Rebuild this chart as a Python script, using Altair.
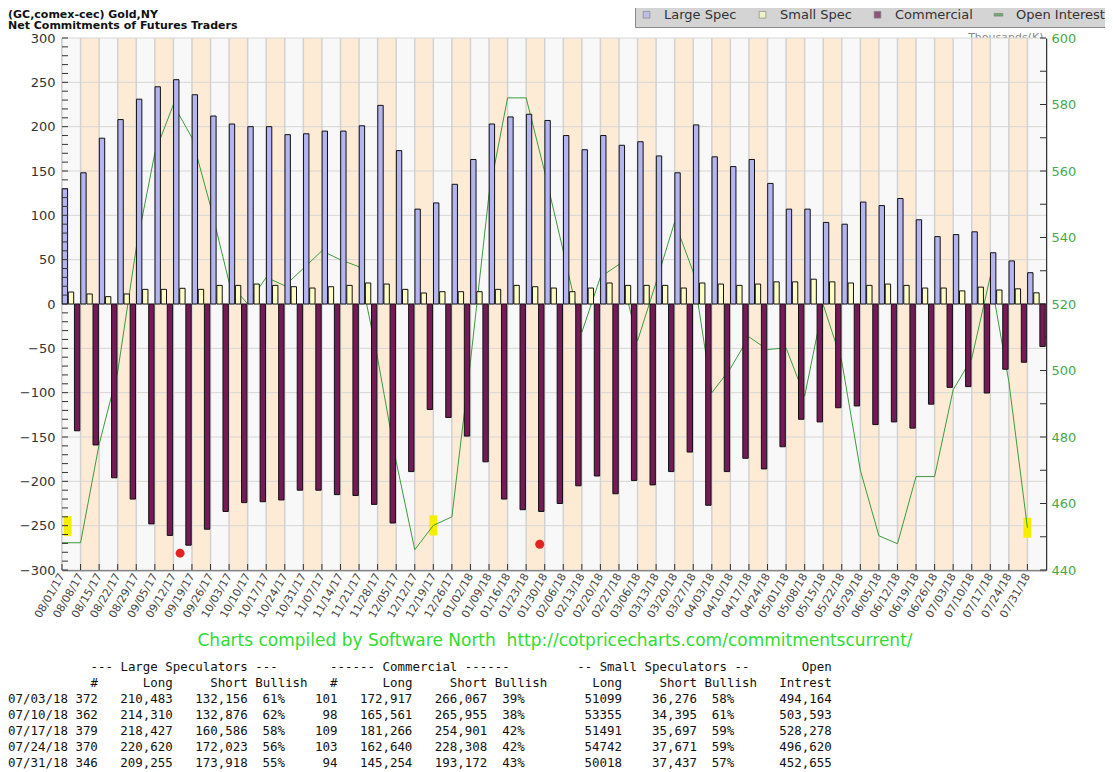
import altair as alt
import pandas as pd

# ---------------- data ----------------
dates = ["08/01/17","08/08/17","08/15/17","08/22/17","08/29/17","09/05/17","09/12/17","09/19/17","09/26/17",
         "10/03/17","10/10/17","10/17/17","10/24/17","10/31/17","11/07/17","11/14/17","11/21/17","11/28/17",
         "12/05/17","12/12/17","12/19/17","12/26/17","01/02/18","01/09/18","01/16/18","01/23/18","01/30/18",
         "02/06/18","02/13/18","02/20/18","02/27/18","03/06/18","03/13/18","03/20/18","03/27/18","04/03/18",
         "04/10/18","04/17/18","04/24/18","05/01/18","05/08/18","05/15/18","05/22/18","05/29/18","06/05/18",
         "06/12/18","06/19/18","06/26/18","07/03/18","07/10/18","07/17/18","07/24/18","07/31/18"]

large_spec = [130, 148, 187, 208, 231, 245, 253, 236, 212, 203,
              200, 200, 191, 192, 195, 195, 201, 224, 173, 107,
              114, 135, 163, 203, 211, 214, 207, 190, 174, 190,
              179, 183, 167, 148, 202, 166, 155, 163, 136, 107,
              107, 92, 90, 115, 111, 119, 95, 76, 78.3, 81.4,
              57.8, 48.6, 35.3]

small_spec = [13.5, 11.3, 8.3, 11.3, 16.5, 16.5, 17.7, 16.5, 21, 21,
              22.5, 21, 19.5, 18, 19.5, 21, 23.7, 22.5, 16.5, 12.4,
              13.9, 13.9, 13.9, 16.5, 21, 19.5, 18, 13.9, 18, 23.7,
              21, 21, 21, 18, 23.7, 22.5, 21, 22.5, 25, 25,
              28, 25, 23.7, 21, 22.5, 21, 18, 18, 14.8, 19.0,
              15.8, 17.1, 12.6]

commercial = [-143, -159, -196, -220, -248, -261, -272, -254, -234, -224,
              -223, -221, -210, -210, -215, -216, -226, -247, -189, -119,
              -128, -149, -178, -220, -232, -234, -225, -205, -194, -214,
              -199, -204, -189, -167, -227, -189, -174, -186, -161, -130,
              -133, -117, -115, -136, -133, -140, -113, -94, -93.2, -100.4,
              -73.6, -65.7, -47.9]

open_interest = [448.2, 448.2, 477.8, 499.6, 536.9, 565.4, 580.0, 570.0, 549.4, 526.5,
                 520.0, 528.0, 525.5, 530.7, 536.0, 533.3, 531.2, 503.7, 472.6, 446.1,
                 453.4, 456.0, 502.7, 553.0, 582.0, 582.0, 559.7, 535.9, 511.5, 528.1,
                 531.9, 508.9, 526.5, 544.7, 529.6, 493.3, 500.6, 510.1, 506.3, 506.8,
                 492.3, 519.8, 502.7, 470.0, 450.3, 447.9, 468.1, 468.1, 494.2, 503.6,
                 528.3, 496.6, 452.7]

marker_week = [0.3, 20, 52]
marker_oi = [453.2, 453.4, 452.7]
dot_week = [6.36, 25.73]
dot_value = [-281, -271]

series_names = ["Large Spec", "Small Spec", "Commercial", "Open Interest"]
series_colors = ["#b4b4f0", "#ffffc4", "#741a56", "#3d9b3d"]

left_ticks = list(range(-300, 301, 50))
left_minor = list(range(-300, 301, 10))
right_ticks = list(range(440, 601, 20))
right_minor = list(range(440, 601, 10))

title_lines = ["(GC,comex-cec) Gold,NY", "Net Commitments of Futures Traders"]
credit = "Charts compiled by Software North  http://cotpricecharts.com/commitmentscurrent/"

tbl_dates = ["07/03/18", "07/10/18", "07/17/18", "07/24/18", "07/31/18"]
ls_traders = [372, 362, 379, 370, 346]
ls_long = [210483, 214310, 218427, 220620, 209255]
ls_short = [132156, 132876, 160586, 172023, 173918]
ls_bull = [61, 62, 58, 56, 55]
cm_traders = [101, 98, 109, 103, 94]
cm_long = [172917, 165561, 181266, 162640, 145254]
cm_short = [266067, 265955, 254901, 228308, 193172]
cm_bull = [39, 38, 42, 42, 43]
ss_long = [51099, 53355, 51491, 54742, 50018]
ss_short = [36276, 34395, 35697, 37671, 37437]
ss_bull = [58, 61, 59, 59, 57]
oi_table = [494164, 503593, 528278, 496620, 452655]

# ---------------- layout ----------------
W, H = 984, 532
N = len(dates)
MONO = 12.45
CHAR_W = MONO * 0.602

df = pd.DataFrame({"i": list(range(N)), "date": dates,
                   "Large Spec": large_spec, "Small Spec": small_spec,
                   "Commercial": commercial, "oi": open_interest})

label_expr = "[" + ",".join("'%s'" % d for d in dates) + "][datum.value]"

xscale = alt.Scale(domain=[0, N], nice=False, zero=False)
xaxis = alt.Axis(values=list(range(N)), labelExpr=label_expr, labelAngle=300, labelAlign="right",
                 labelBaseline="middle", labelFontSize=11, labelColor="#444", labelPadding=4,
                 ticks=False, tickSize=0, grid=False, domainColor="#333", domainWidth=1.5, title=None,
                 labelOverlap=False, labelFlush=False, labelFont="DejaVu Sans")

yscaleL = alt.Scale(domain=[-300, 300], nice=False, zero=False)
yaxisL = alt.Axis(values=left_ticks, ticks=False, tickSize=0, grid=False, labelFontSize=13,
                  labelColor="#333", labelPadding=7, domainColor="#333", domainWidth=1.5,
                  title=None, labelFlush=False, labelFont="DejaVu Sans")

yscaleR = alt.Scale(domain=[440, 600], nice=False, zero=False)
yaxisR = alt.Axis(orient="right", values=right_ticks, ticks=False, tickSize=0, grid=False,
                  labelColor="#4aa84a", labelFontSize=13, labelPadding=5, domainColor="#333",
                  domainWidth=1.5, title="Thousands(K)", titleAngle=0, titleAlign="right",
                  titleBaseline="middle", titleX=-3, titleY=-1, titleFontSize=11,
                  titleFontWeight="normal", titleColor="#888", labelFlush=False,
                  labelFont="DejaVu Sans", titleFont="DejaVu Sans")

SER = alt.Scale(domain=series_names, range=series_colors)
DASH = "M-1.3,-0.4L1.3,-0.4L1.3,0.4L-1.3,0.4Z"
SHP = alt.Scale(domain=series_names, range=["square", "square", "square", DASH])
LEG = alt.Legend(orient="none", legendX=573, legendY=-35, direction="horizontal", title=None,
                 fillColor="#d4d4d4", strokeColor="#8a8a8a", padding=5, labelFontSize=13,
                 labelFont="DejaVu Sans", labelColor="#333", symbolSize=45,
                 symbolStrokeColor="#666", symbolStrokeWidth=0.7, labelOffset=11,
                 columnPadding=19, labelLimit=300)

X = lambda f: alt.X(f, scale=xscale, axis=xaxis)

# ---------------- group A: background, grid, texts ----------------
bands = alt.Chart(df).transform_calculate(i2="datum.i + 1").mark_rect().encode(
    x=X("i:Q"), x2="i2:Q", y=alt.value(0), y2=alt.value(H),
    fill=alt.condition("datum.i % 2 == 0", alt.value("#f8f8f8"), alt.value("#fdebd6")))

hgrid = alt.Chart(pd.DataFrame({"v": left_ticks})).mark_rule(stroke="#d6d6d6", strokeWidth=1).encode(
    y=alt.Y("v:Q", scale=yscaleL, axis=None), x=alt.value(0), x2=alt.value(W))

vgrid = alt.Chart(df).mark_rule(stroke="#d2d2d2", strokeWidth=1.5).encode(
    x=X("i:Q"), y=alt.value(0), y2=alt.value(H))

t1 = alt.Chart(pd.DataFrame({"t": [title_lines[0]]})).mark_text(
    align="left", baseline="middle", fontSize=11, fontWeight="bold", font="DejaVu Sans", color="#111"
).encode(text="t:N", x=alt.value(-54), y=alt.value(-23))
t2 = alt.Chart(pd.DataFrame({"t": [title_lines[1]]})).mark_text(
    align="left", baseline="middle", fontSize=11, fontWeight="bold", font="DejaVu Sans", color="#111"
).encode(text="t:N", x=alt.value(-54), y=alt.value(-11.7))

cred = alt.Chart(pd.DataFrame({"t": [credit.replace(" ", "\u00a0")]})).mark_text(
    align="center", baseline="middle", fontSize=17, font="DejaVu Sans", color="#30dc30"
).encode(text="t:N", x=alt.value(493), y=alt.value(603))


def place(items, width=110):
    chars = [" "] * width
    for col, txt in items:
        for k, ch in enumerate(txt):
            chars[col + k] = ch
    return "".join(chars).rstrip()


hdr1 = place([(11, "--- Large Speculators ---"), (43, "------ Commercial ------"),
              (76, "-- Small Speculators --"), (106, "Open")])
hdr2 = place([(11, "#"), (18, "Long"), (27, "Short"), (33, "Bullish"), (43, "#"), (50, "Long"),
              (59, "Short"), (65, "Bullish"), (78, "Long"), (87, "Short"), (93, "Bullish"),
              (103, "Intrest")])
table_lines = [hdr1, hdr2]
for k in range(len(tbl_dates)):
    table_lines.append(
        f"{tbl_dates[k]:8} {ls_traders[k]:>3}   {ls_long[k]:>7,}   {ls_short[k]:>7,}  {str(ls_bull[k]) + '%':>3}"
        f"    {cm_traders[k]:>3}   {cm_long[k]:>7,}   {cm_short[k]:>7,}  {str(cm_bull[k]) + '%':>3}"
        f"        {ss_long[k]:>5}    {ss_short[k]:>6,}  {str(ss_bull[k]) + '%':>3}      {oi_table[k]:>7,}")

table_layers = []
for r, line in enumerate(table_lines):
    lead = len(line) - len(line.lstrip(" "))
    table_layers.append(
        alt.Chart(pd.DataFrame({"t": [line.lstrip(" ").replace(" ", "\u00a0")]})).mark_text(
            align="left", baseline="middle", fontSize=MONO, font="DejaVu Sans Mono", color="#111"
        ).encode(text="t:N", x=alt.value(-54 + lead * CHAR_W), y=alt.value(629 + 16 * r)))

groupA = alt.layer(bands, hgrid, vgrid, t1, t2, cred, *table_layers)

# ---------------- group B: open interest (right scale) ----------------
mk_df = pd.DataFrame({"w": marker_week, "oi": marker_oi})
markers = alt.Chart(mk_df).mark_point(shape="M-0.4,-1L0.4,-1L0.4,1L-0.4,1Z", filled=True,
                                      fill="#f6ee00", size=400, opacity=1, strokeWidth=0).encode(
    x=X("w:Q"), y=alt.Y("oi:Q", scale=yscaleR, axis=yaxisR))

oi_line = alt.Chart(df).mark_line(stroke="#3d9b3d", strokeWidth=1).encode(
    x=X("i:Q"), y=alt.Y("oi:Q", scale=yscaleR, axis=yaxisR))

rticks = alt.Chart(pd.DataFrame({"v": right_minor})).mark_rule(stroke="#333", strokeWidth=1).encode(
    y=alt.Y("v:Q", scale=yscaleR, axis=yaxisR), x=alt.value(W - 6), x2=alt.value(W))

groupB = alt.layer(markers, oi_line, rticks)

# ---------------- group C: bars (left scale) ----------------
bars = alt.Chart(df).transform_fold(
    ["Large Spec", "Small Spec", "Commercial"], as_=["series", "value"]
).transform_calculate(
    k="indexof(['Large Spec','Small Spec','Commercial'], datum.series)"
).transform_calculate(
    x0="datum.i + 0.01 + 0.33 * datum.k"
).transform_calculate(
    x1="datum.x0 + 0.29"
).transform_calculate(
    zero="0"
).mark_rect(stroke="#111", strokeWidth=1).encode(
    x=X("x0:Q"), x2="x1:Q",
    y=alt.Y("value:Q", scale=yscaleL, axis=yaxisL), y2="zero:Q",
    fill=alt.Fill("series:N", scale=SER, legend=LEG))

dots = alt.Chart(pd.DataFrame({"w": dot_week, "v": dot_value})).mark_circle(
    size=80, color="#e52222", opacity=1).encode(
    x=X("w:Q"), y=alt.Y("v:Q", scale=yscaleL, axis=yaxisL))

lticks = alt.Chart(pd.DataFrame({"v": left_minor})).mark_rule(stroke="#333", strokeWidth=1).encode(
    y=alt.Y("v:Q", scale=yscaleL, axis=yaxisL), x=alt.value(0), x2=alt.value(6))

bticks = alt.Chart(df).mark_rule(stroke="#333", strokeWidth=1).encode(
    x=X("i:Q"), y=alt.value(H - 6), y2=alt.value(H))

legend_pts = alt.Chart(pd.DataFrame({"series": series_names})).transform_filter("false").mark_point(
    filled=True).encode(
    fill=alt.Fill("series:N", scale=SER, legend=LEG),
    shape=alt.Shape("series:N", scale=SHP, legend=LEG))

groupC = alt.layer(bars, dots, lticks, bticks, legend_pts)

chart = alt.layer(groupA, groupB, groupC).resolve_scale(y="independent").properties(
    width=W, height=H,
    autosize=alt.AutoSizeParams(type="none"),
    padding={"left": 54, "top": 30, "right": 59, "bottom": 200},
).configure(font="DejaVu Sans").configure_view(stroke=None)

chart.save("out.html", embed_options={"renderer": "svg", "actions": False})
